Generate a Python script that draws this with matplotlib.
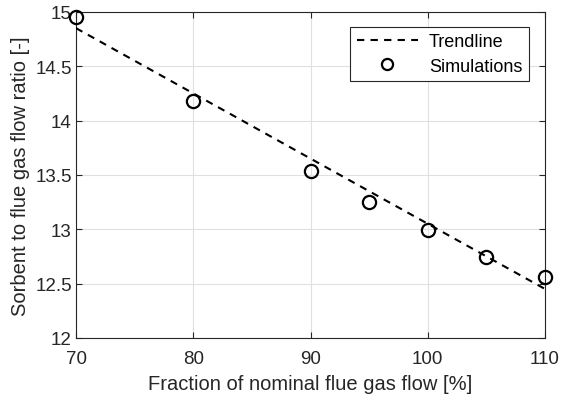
import matplotlib
matplotlib.use("Agg")
import matplotlib.pyplot as plt

plt.rcParams['font.family'] = ['Liberation Sans', 'DejaVu Sans']

sim_x = [70, 80, 90, 95, 100, 105, 110]
sim_y = [14.95, 14.18, 13.54, 13.25, 12.99, 12.74, 12.56]
trend_x = [70, 110]
trend_y = [14.85, 12.45]
xticks = [70, 80, 90, 100, 110]
yticks = [12, 12.5, 13, 13.5, 14, 14.5, 15]
ytick_labels = ['12', '12.5', '13', '13.5', '14', '14.5', '15']

fig = plt.figure(figsize=(5.61, 4.02), dpi=100)
ax = fig.add_axes([0.1355, 0.157, 0.836, 0.811])

ax.plot(trend_x, trend_y, linestyle=(0, (3.5, 3)), color='black', lw=1.5, label='Trendline', zorder=3)
ax.plot(sim_x, sim_y, linestyle='none', marker='o', markersize=9.5, markerfacecolor='none',
        markeredgecolor='black', markeredgewidth=1.6, label='Simulations', zorder=4, clip_on=False)

ax.set_xlim(70, 110)
ax.set_ylim(12, 15)
ax.set_xticks(xticks)
ax.set_yticks(yticks)
ax.set_yticklabels(ytick_labels)
ax.grid(True, color='#e0e0e0', lw=0.8)
ax.set_axisbelow(True)
ax.tick_params(direction='in', length=4, width=0.8, colors='#262626', labelsize=13.5, top=True, right=True,
               labeltop=False, labelright=False)
ax.tick_params(axis='x', pad=9)
ax.tick_params(axis='y', pad=3)
for s in ax.spines.values():
    s.set_color('#262626')
    s.set_linewidth(0.8)

ax.set_xlabel('Fraction of nominal flue gas flow [%]', fontsize=14.5, color='#262626', labelpad=5)
ax.set_ylabel('Sorbent to flue gas flow ratio [-]', fontsize=14.5, color='#262626', labelpad=4)

leg = ax.legend(loc='upper right', bbox_to_anchor=(0.9655, 0.955), fontsize=13, frameon=True, fancybox=False,
                edgecolor='#262626', framealpha=1, handlelength=3.4, handletextpad=0.6,
                borderpad=0.36, labelspacing=0.42, borderaxespad=0)
leg.get_frame().set_linewidth(0.8)
for h in leg.legend_handles:
    if h.get_marker() == 'o':
        h.set_markersize(8)

fig.savefig('out.png', dpi=100)
